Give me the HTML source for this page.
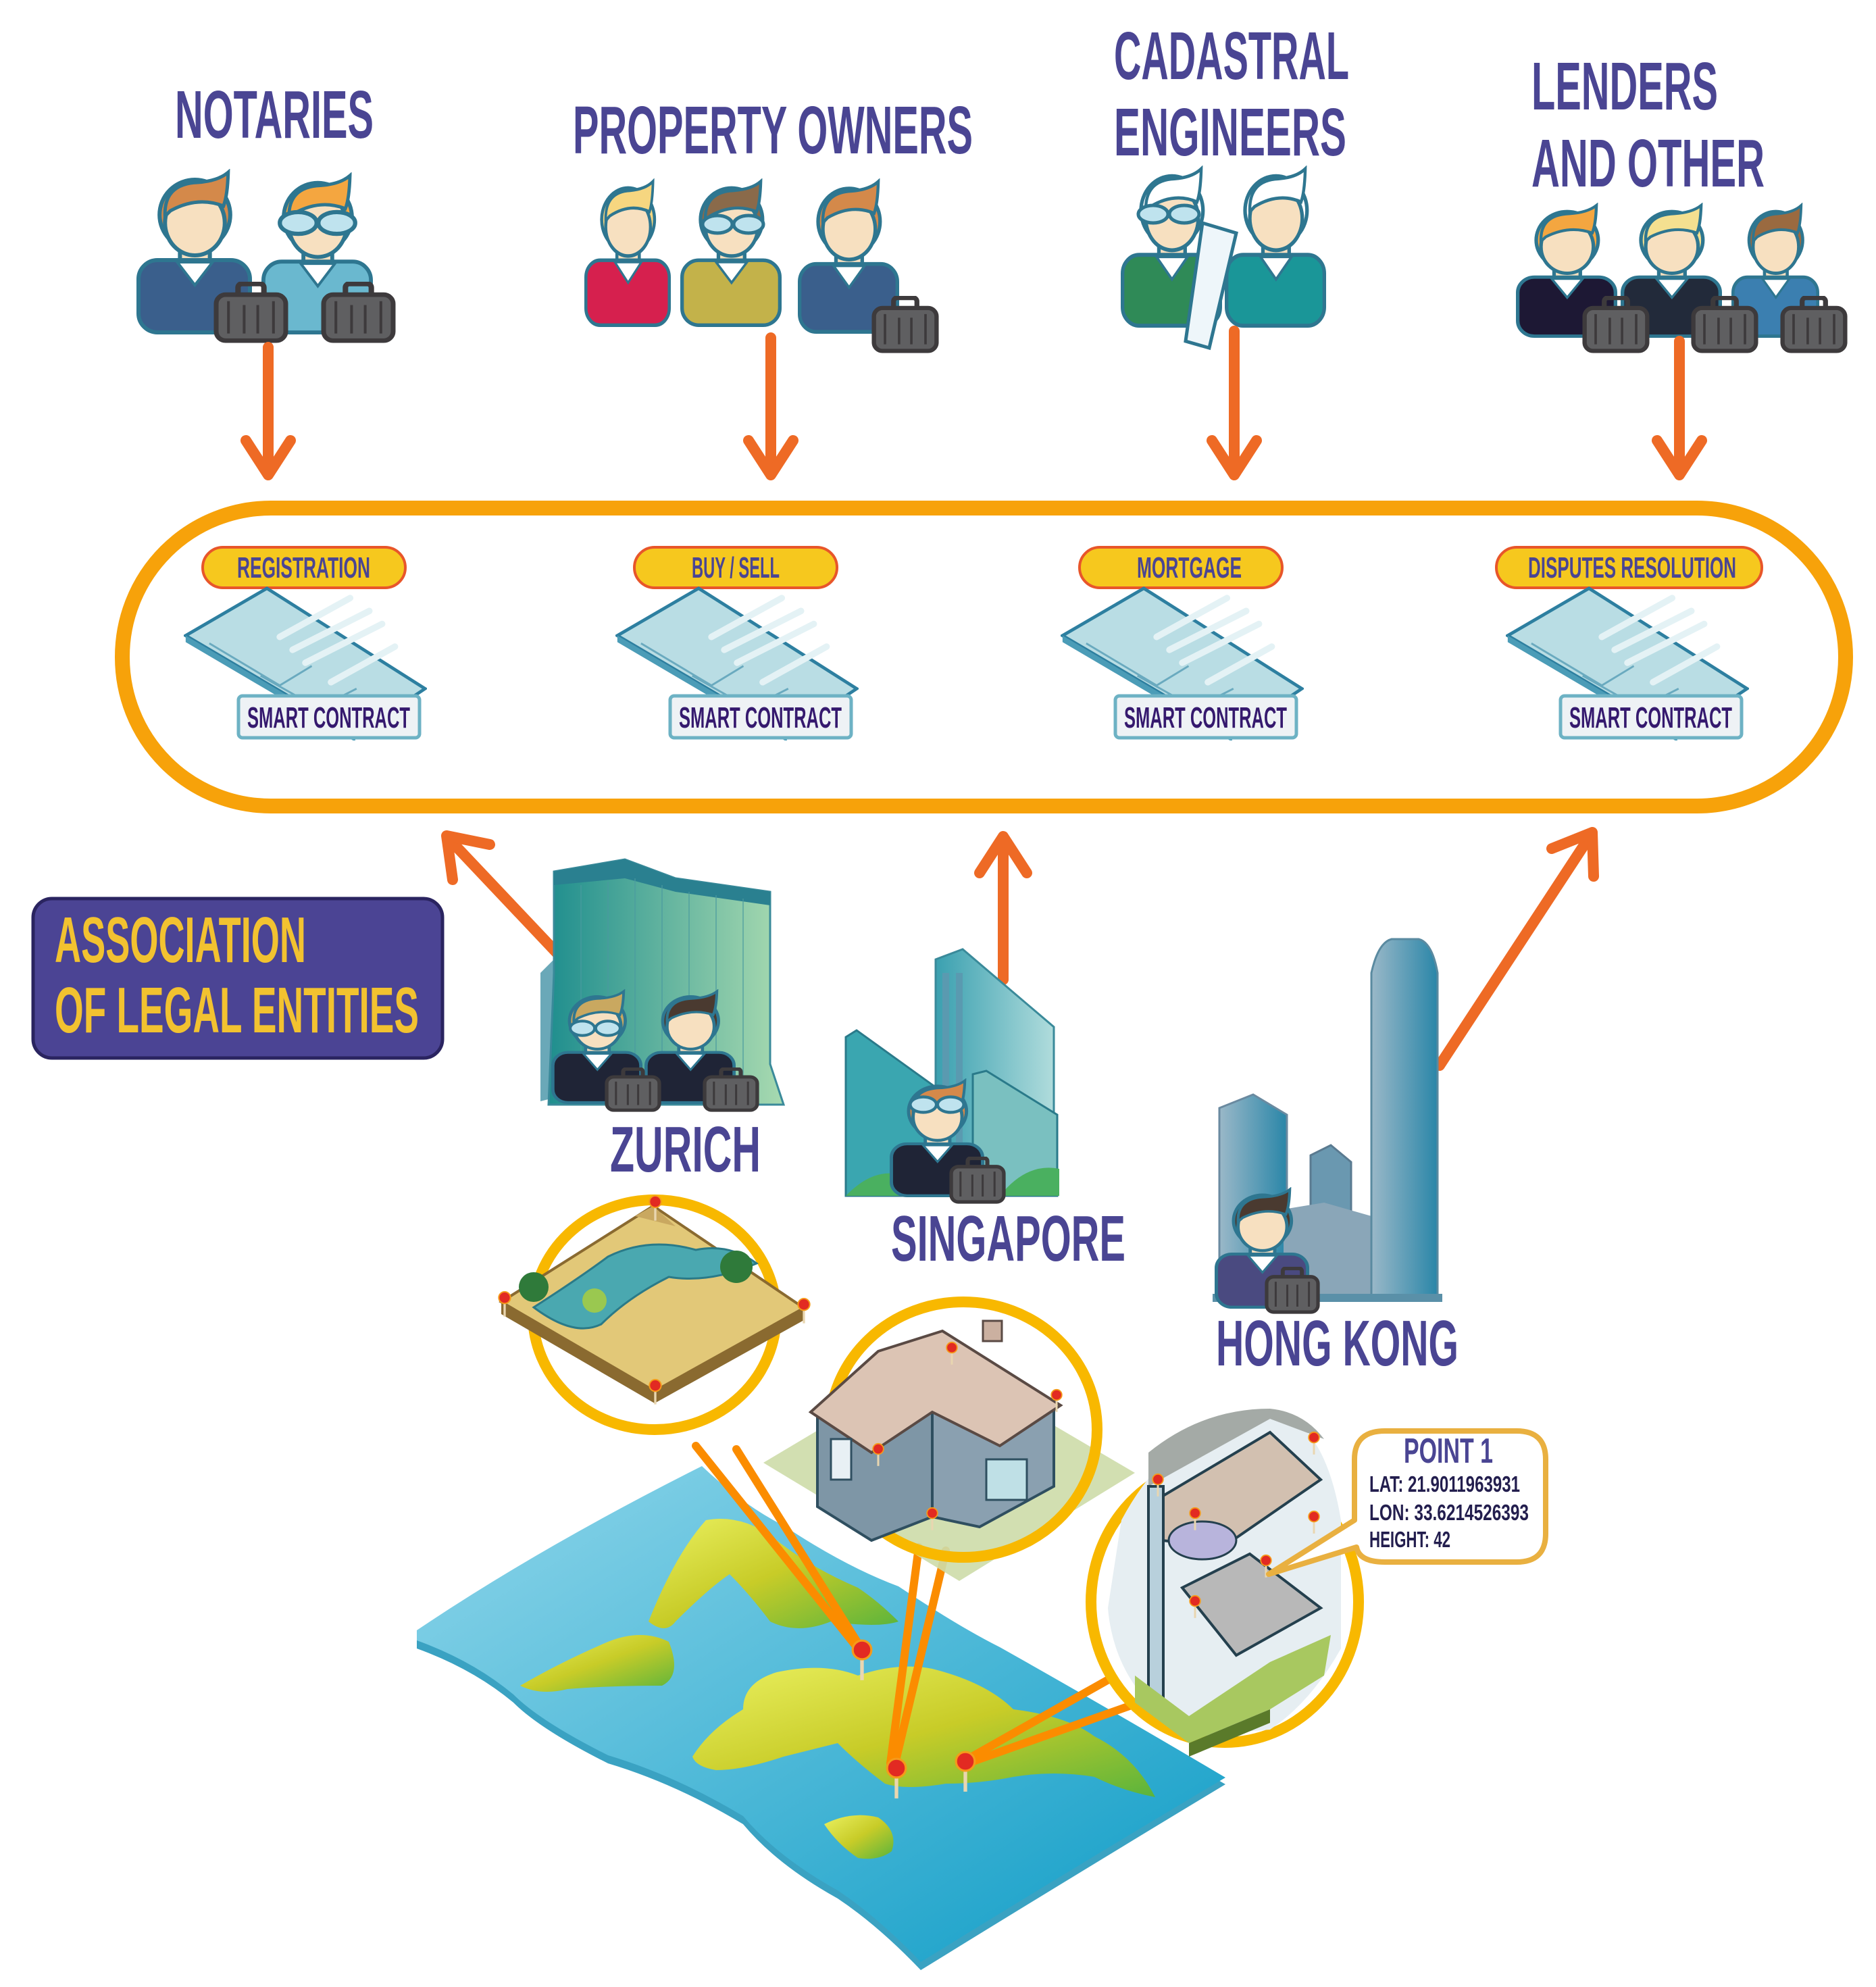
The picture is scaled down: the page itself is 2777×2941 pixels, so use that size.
<!DOCTYPE html>
<html><head><meta charset="utf-8"><style>
html,body{margin:0;padding:0;background:#fff}
svg{display:block}
text{font-family:"Liberation Sans Narrow","Liberation Sans",sans-serif;font-weight:bold}
</style></head><body>
<svg width="2777" height="2941" viewBox="0 0 2777 2941" xmlns="http://www.w3.org/2000/svg">
<defs>
<symbol id="p" viewBox="0 0 170 245" preserveAspectRatio="none">
 <ellipse cx="86" cy="68" rx="52" ry="52" fill="var(--h)" stroke="#2e7690" stroke-width="6"/>
 <rect x="64" y="105" width="44" height="45" fill="#f7e0c0" stroke="#2e7690" stroke-width="6"/>
 <rect x="3" y="135" width="164" height="107" rx="28" fill="currentColor" stroke="#2e7690" stroke-width="6"/>
 <path d="M60 138 L86 172 L112 138 Z" fill="#fff" stroke="#2e7690" stroke-width="4"/>
 <ellipse cx="86" cy="80" rx="44" ry="48" fill="#f7e0c0" stroke="#2e7690" stroke-width="6"/>
 <path d="M42 70 Q40 22 90 20 Q120 18 135 5 Q134 40 128 55 Q90 40 50 62 Z" fill="var(--h)" stroke="#2e7690" stroke-width="5"/>
</symbol>
<symbol id="b" viewBox="0 0 110 95" preserveAspectRatio="none">
 <rect x="36" y="3" width="38" height="28" rx="6" fill="none" stroke="#3d3a3c" stroke-width="8"/>
 <rect x="4" y="20" width="102" height="71" rx="14" fill="#5f5f61" stroke="#3d3a3c" stroke-width="7"/>
 <path d="M22 30V80M45 36V80M65 36V80M88 30V80" stroke="#3d3a3c" stroke-width="4"/>
</symbol>
<symbol id="g" viewBox="0 0 100 30">
 <ellipse cx="27" cy="15" rx="22" ry="13" fill="#bfe3ee" stroke="#2e7690" stroke-width="5"/>
 <ellipse cx="73" cy="15" rx="22" ry="13" fill="#bfe3ee" stroke="#2e7690" stroke-width="5"/>
</symbol>
<symbol id="doc" viewBox="0 0 380 240" preserveAspectRatio="none">
 <polygon points="130,5 3,78 268,232 377,160" fill="#b9dde4" stroke="#2d7fa0" stroke-width="5"/>
 <polygon points="3,78 3,88 268,242 268,232" fill="#4b9cb7"/>
 <path d="M150 80 L260 20 M170 100 L290 40 M190 120 L310 60 M230 150 L330 95" stroke="#e4f2f5" stroke-width="10" stroke-linecap="round"/>
 <path d="M40 90 L150 155 L200 125 M120 140 L210 190 L270 160" stroke="#6aaabf" stroke-width="3" fill="none"/>
</symbol>
<symbol id="pin" viewBox="0 0 30 60">
 <line x1="15" y1="20" x2="15" y2="58" stroke="#e9d6b0" stroke-width="5"/>
 <circle cx="15" cy="16" r="13" fill="#e22a22" stroke="#f59a1a" stroke-width="3"/>
</symbol>
<linearGradient id="sea" x1="0" y1="0" x2="1" y2="1"><stop offset="0" stop-color="#8fd6ea"/><stop offset="1" stop-color="#0e9cc6"/></linearGradient>
<linearGradient id="land" x1="0" y1="0" x2="1" y2="1"><stop offset="0" stop-color="#eaf060"/><stop offset="0.5" stop-color="#c8cc28"/><stop offset="1" stop-color="#5ab43c"/></linearGradient>
<linearGradient id="zb" x1="0" y1="0" x2="1" y2="0"><stop offset="0" stop-color="#1f8e8e"/><stop offset="1" stop-color="#a8dab0"/></linearGradient>
<linearGradient id="sb" x1="0" y1="0" x2="1" y2="0"><stop offset="0" stop-color="#3aa0b0"/><stop offset="1" stop-color="#b0dcdc"/></linearGradient>
<linearGradient id="hb" x1="0" y1="0" x2="1" y2="0"><stop offset="0" stop-color="#9ab8c8"/><stop offset="1" stop-color="#2a86a8"/></linearGradient>
</defs>

<!-- Titles -->
<g fill="#4a4593">
<text x="259" y="204" font-size="100" textLength="294" lengthAdjust="spacingAndGlyphs">NOTARIES</text>
<text x="848" y="227" font-size="100" textLength="592" lengthAdjust="spacingAndGlyphs">PROPERTY OWNERS</text>
<text x="1649" y="117" font-size="100" textLength="348" lengthAdjust="spacingAndGlyphs">CADASTRAL</text>
<text x="1649" y="230" font-size="100" textLength="344" lengthAdjust="spacingAndGlyphs">ENGINEERS</text>
<text x="2267" y="162" font-size="100" textLength="276" lengthAdjust="spacingAndGlyphs">LENDERS</text>
<text x="2267" y="276" font-size="100" textLength="345" lengthAdjust="spacingAndGlyphs">AND OTHER</text>
</g>

<!-- People top -->
<use href="#p" x="202" y="250" width="171" height="245" style="color:#3a5f8c;--h:#d4894a"/>
<use href="#p" x="387" y="255" width="165" height="240" style="color:#6ab8cf;--h:#f4a640"/>
<use href="#g" x="408" y="310" width="124" height="40"/>
<use href="#b" x="316" y="417" width="111" height="91"/>
<use href="#b" x="475" y="417" width="111" height="91"/>

<use href="#p" x="865" y="264" width="128" height="220" style="color:#d6204e;--h:#f6d680"/>
<use href="#p" x="1007" y="264" width="150" height="220" style="color:#c3b24a;--h:#8a6a4a"/>
<use href="#g" x="1035" y="315" width="100" height="34"/>
<use href="#p" x="1181" y="264" width="150" height="230" style="color:#3a5f8c;--h:#d4894a"/>
<use href="#b" x="1290" y="438" width="100" height="85"/>

<use href="#p" x="1659" y="245" width="150" height="240" style="color:#2f8a57;--h:#ffffff"/>
<use href="#g" x="1680" y="300" width="100" height="34"/>
<use href="#p" x="1813" y="245" width="150" height="240" style="color:#1a9698;--h:#ffffff"/>
<polygon points="1780,330 1830,345 1790,515 1755,505" fill="#eef6fa" stroke="#2e7690" stroke-width="5"/>

<use href="#p" x="2244" y="300" width="150" height="200" style="color:#1d1834;--h:#f4a640"/>
<use href="#p" x="2399" y="300" width="150" height="200" style="color:#222a3a;--h:#f4e090"/>
<use href="#p" x="2563" y="300" width="130" height="200" style="color:#3b7fb0;--h:#9a6a40"/>
<use href="#b" x="2342" y="438" width="100" height="85"/>
<use href="#b" x="2503" y="438" width="100" height="85"/>
<use href="#b" x="2635" y="438" width="100" height="85"/>

<!-- Down arrows -->
<g stroke="#ee6a25" stroke-width="16" fill="none" stroke-linecap="round" stroke-linejoin="round">
<line x1="397" y1="514" x2="397" y2="700"/><polyline points="364,652 397,703 430,652"/>
<line x1="1141" y1="500" x2="1141" y2="700"/><polyline points="1108,652 1141,703 1174,652"/>
<line x1="1827" y1="490" x2="1827" y2="700"/><polyline points="1794,652 1827,703 1860,652"/>
<line x1="2486" y1="505" x2="2486" y2="700"/><polyline points="2453,652 2486,703 2519,652"/>
</g>

<!-- Big pill -->
<rect x="181" y="752" width="2551" height="441" rx="220" fill="none" stroke="#f7a20a" stroke-width="22"/>

<!-- Contracts -->
<g>
<rect x="300" y="810" width="300" height="60" rx="30" fill="#f6c81e" stroke="#e8562a" stroke-width="4"/>
<text x="351" y="855" font-size="44" fill="#4a4593" textLength="197" lengthAdjust="spacingAndGlyphs">REGISTRATION</text>
<use href="#doc" x="272" y="866" width="360" height="230"/>
<rect x="353" y="1030" width="268" height="62" rx="6" fill="#eef2f5" stroke="#6db2c4" stroke-width="5"/>
<text x="366" y="1077" font-size="44" fill="#35196e" textLength="241" lengthAdjust="spacingAndGlyphs">SMART CONTRACT</text>
</g>
<g transform="translate(639,0)">
<rect x="300" y="810" width="300" height="60" rx="30" fill="#f6c81e" stroke="#e8562a" stroke-width="4"/>
<text x="385" y="855" font-size="44" fill="#4a4593" textLength="130" lengthAdjust="spacingAndGlyphs">BUY / SELL</text>
<use href="#doc" x="272" y="866" width="360" height="230"/>
<rect x="353" y="1030" width="268" height="62" rx="6" fill="#eef2f5" stroke="#6db2c4" stroke-width="5"/>
<text x="366" y="1077" font-size="44" fill="#35196e" textLength="241" lengthAdjust="spacingAndGlyphs">SMART CONTRACT</text>
</g>
<g transform="translate(1298,0)">
<rect x="300" y="810" width="300" height="60" rx="30" fill="#f6c81e" stroke="#e8562a" stroke-width="4"/>
<text x="385" y="855" font-size="44" fill="#4a4593" textLength="155" lengthAdjust="spacingAndGlyphs">MORTGAGE</text>
<use href="#doc" x="272" y="866" width="360" height="230"/>
<rect x="353" y="1030" width="268" height="62" rx="6" fill="#eef2f5" stroke="#6db2c4" stroke-width="5"/>
<text x="366" y="1077" font-size="44" fill="#35196e" textLength="241" lengthAdjust="spacingAndGlyphs">SMART CONTRACT</text>
</g>
<g transform="translate(1957,0)">
<rect x="258" y="810" width="393" height="60" rx="30" fill="#f6c81e" stroke="#e8562a" stroke-width="4"/>
<text x="305" y="855" font-size="44" fill="#4a4593" textLength="308" lengthAdjust="spacingAndGlyphs">DISPUTES RESOLUTION</text>
<use href="#doc" x="272" y="866" width="360" height="230"/>
<rect x="353" y="1030" width="268" height="62" rx="6" fill="#eef2f5" stroke="#6db2c4" stroke-width="5"/>
<text x="366" y="1077" font-size="44" fill="#35196e" textLength="241" lengthAdjust="spacingAndGlyphs">SMART CONTRACT</text>
</g>

<!-- Association box -->
<rect x="49" y="1330" width="606" height="236" rx="28" fill="#4b4494" stroke="#2a2460" stroke-width="5"/>
<text x="81" y="1424" font-size="96" fill="#f2c230" textLength="372" lengthAdjust="spacingAndGlyphs">ASSOCIATION</text>
<text x="81" y="1528" font-size="96" fill="#f2c230" textLength="539" lengthAdjust="spacingAndGlyphs">OF LEGAL ENTITIES</text>

<!-- Up arrows -->
<g stroke="#ee6a25" stroke-width="16" fill="none" stroke-linecap="round" stroke-linejoin="round">
<line x1="838" y1="1425" x2="664" y2="1241"/><polyline points="670,1302 661,1237 725,1250"/>
<line x1="1485" y1="1450" x2="1485" y2="1242"/><polyline points="1450,1292 1485,1238 1520,1292"/>
<line x1="2131" y1="1577" x2="2354" y2="1237"/><polyline points="2297,1256 2357,1232 2359,1297"/>
</g>

<!-- Zurich building -->
<polygon points="800,1440 840,1400 840,1620 800,1630" fill="#6aa8b8"/>
<polygon points="820,1290 925,1272 1000,1300 1140,1320 1140,1575 1160,1635 812,1635 820,1440" fill="url(#zb)" stroke="#3a8a9a" stroke-width="3"/>
<polygon points="820,1290 925,1272 1000,1300 1140,1320 1140,1340 1000,1320 925,1300 820,1310" fill="#2a8090"/>
<g stroke="#4a9aa0" stroke-width="2" opacity="0.6"><path d="M860 1310V1620M900 1305V1620M940 1300V1620M980 1310V1620M1020 1320V1620M1060 1325V1620M1100 1330V1620"/></g>
<use href="#p" x="816" y="1464" width="135" height="170" style="color:#1f2436;--h:#c9a860"/>
<use href="#g" x="840" y="1508" width="82" height="28"/>
<use href="#p" x="954" y="1464" width="135" height="170" style="color:#1f2436;--h:#4a3a30"/>
<use href="#b" x="895" y="1580" width="84" height="66"/>
<use href="#b" x="1040" y="1580" width="84" height="66"/>
<text x="903" y="1734" font-size="96" fill="#4a4593" textLength="223" lengthAdjust="spacingAndGlyphs">ZURICH</text>

<!-- Singapore buildings -->
<polygon points="1385,1420 1425,1405 1560,1520 1560,1760 1385,1760" fill="url(#sb)" stroke="#3a8a9a" stroke-width="3"/>
<g fill="#5a9ab0"><rect x="1395" y="1440" width="10" height="300"/><rect x="1415" y="1440" width="10" height="300"/></g>
<polygon points="1252,1535 1268,1525 1400,1620 1400,1770 1252,1770" fill="#3aa6b0" stroke="#2a7a8a" stroke-width="3"/>
<polygon points="1440,1590 1460,1585 1565,1650 1565,1770 1440,1770" fill="#7ac0c0" stroke="#2a7a8a" stroke-width="3"/>
<path d="M1252 1770 Q1300 1720 1350 1745 L1400 1770 Z M1480 1770 Q1520 1720 1568 1730 L1568 1770Z" fill="#4ab060"/>
<use href="#p" x="1317" y="1596" width="140" height="176" style="color:#1f2436;--h:#d4894a"/>
<use href="#g" x="1343" y="1620" width="88" height="30"/>
<use href="#b" x="1405" y="1712" width="84" height="70"/>
<text x="1319" y="1866" font-size="96" fill="#4a4593" textLength="347" lengthAdjust="spacingAndGlyphs">SINGAPORE</text>

<!-- Hong Kong buildings -->
<polygon points="1805,1640 1855,1620 1905,1650 1905,1920 1805,1920" fill="url(#hb)" stroke="#6a8aa0" stroke-width="3"/>
<polygon points="1940,1710 1970,1695 2000,1720 2000,1920 1940,1920" fill="#6a98b0" stroke="#5a7a90" stroke-width="3"/>
<polygon points="1900,1790 1960,1780 2030,1800 2030,1920 1900,1920" fill="#8aa6b8"/>
<path d="M2030 1920 L2030 1440 Q2040 1395 2060 1390 L2100 1390 Q2120 1395 2128 1440 L2128 1920 Z" fill="url(#hb)" stroke="#5a8aa0" stroke-width="3"/>
<rect x="1795" y="1915" width="340" height="12" fill="#5a90a8"/>
<use href="#p" x="1798" y="1757" width="140" height="180" style="color:#4a4a80;--h:#4a3a30"/>
<use href="#b" x="1872" y="1875" width="82" height="70"/>
<text x="1800" y="2021" font-size="96" fill="#4a4593" textLength="359" lengthAdjust="spacingAndGlyphs">HONG KONG</text>

<!-- Map -->
<path d="M617 2425 Q800 2300 1039 2180 Q1100 2240 1160 2270 Q1250 2330 1330 2360 Q1420 2420 1480 2450 Q1640 2540 1814 2641 Q1600 2770 1363 2916 Q1300 2850 1240 2810 Q1150 2760 1100 2700 Q1000 2640 900 2610 Q800 2560 760 2520 Q700 2470 617 2440 Z" fill="#3aa2c2"/>
<path d="M617 2413 Q800 2290 1039 2170 Q1100 2228 1160 2258 Q1250 2318 1330 2348 Q1420 2408 1480 2438 Q1640 2528 1814 2631 Q1600 2758 1363 2904 Q1300 2838 1240 2798 Q1150 2748 1100 2688 Q1000 2628 900 2598 Q800 2548 760 2508 Q700 2458 617 2428 Z" fill="url(#sea)"/>
<path d="M1045 2250 Q1000 2300 960 2400 Q985 2420 1000 2400 Q1050 2350 1080 2330 Q1110 2360 1140 2400 Q1180 2420 1230 2400 Q1300 2410 1330 2400 Q1300 2370 1270 2350 Q1200 2320 1150 2280 Q1100 2240 1045 2250Z" fill="url(#land)"/>
<path d="M770 2495 Q830 2460 900 2430 Q950 2410 990 2430 Q1010 2480 980 2495 Q900 2495 840 2500 Q800 2510 770 2495Z" fill="url(#land)"/>
<path d="M1025 2600 Q1050 2560 1100 2530 Q1100 2490 1150 2475 Q1220 2460 1270 2480 Q1330 2460 1380 2470 Q1460 2490 1500 2530 Q1580 2540 1620 2570 Q1680 2600 1710 2660 Q1660 2650 1620 2630 Q1560 2620 1500 2630 Q1450 2640 1400 2640 Q1340 2650 1310 2640 Q1270 2610 1240 2580 Q1200 2590 1160 2600 Q1100 2620 1060 2620 Q1030 2615 1025 2600Z" fill="url(#land)"/>
<path d="M1220 2700 Q1260 2680 1300 2690 Q1330 2710 1320 2740 Q1300 2755 1270 2750 Q1240 2730 1220 2700Z" fill="url(#land)"/>

<!-- Circle tails (lines) -->
<g fill="none" stroke="#fb8c00" stroke-width="12" stroke-linecap="round">
<line x1="1030" y1="2140" x2="1270" y2="2440"/><line x1="1090" y1="2145" x2="1275" y2="2440"/>
<line x1="1360" y1="2290" x2="1318" y2="2610"/><line x1="1400" y1="2295" x2="1325" y2="2610"/>
<line x1="1655" y1="2478" x2="1430" y2="2605"/><line x1="1672" y1="2525" x2="1432" y2="2610"/>
</g>

<!-- Circle 1: land -->
<ellipse cx="969" cy="1946" rx="180" ry="170" fill="#fff" stroke="#f8b800" stroke-width="16"/>
<polygon points="742,1945 969,2077 1190,1954 1190,1936 969,2059 742,1927" fill="#8a6a30"/>
<polygon points="742,1927 967,1785 1190,1936 969,2059" fill="#e2c878" stroke="#8a6a30" stroke-width="4"/>
<path d="M790 1935 Q860 1890 900 1860 Q960 1830 1030 1850 Q1080 1840 1120 1870 Q1050 1900 990 1890 Q930 1920 890 1960 Q850 1980 790 1935Z" fill="#4aa8b0" stroke="#2a7a88" stroke-width="3"/>
<path d="M940 1800 L967 1785 L1000 1815 Z" fill="#c9a860"/>
<circle cx="790" cy="1905" r="22" fill="#2f7a3a"/><circle cx="1090" cy="1875" r="24" fill="#2f7a3a"/><circle cx="880" cy="1925" r="18" fill="#9ac850"/>
<use href="#pin" x="955" y="1768" width="30" height="40"/>
<use href="#pin" x="732" y="1910" width="30" height="40"/>
<use href="#pin" x="1175" y="1920" width="30" height="40"/>
<use href="#pin" x="955" y="2040" width="30" height="40"/>

<!-- Circle 2: house -->
<polygon points="1130,2165 1390,2010 1680,2180 1420,2340" fill="#cddca8" opacity="0.9"/>
<ellipse cx="1426" cy="2116" rx="198" ry="189" fill="none" stroke="#f8b800" stroke-width="16"/>
<polygon points="1210,2090 1300,2040 1380,2085 1380,2245 1290,2280 1210,2230" fill="#7e96a6" stroke="#2f4f60" stroke-width="4"/>
<polygon points="1380,2085 1560,2080 1560,2200 1450,2260 1380,2245" fill="#8aa0b0" stroke="#2f4f60" stroke-width="4"/>
<polygon points="1200,2090 1300,2000 1395,1970 1570,2080 1480,2140 1380,2090 1290,2150" fill="#dcc4b4" stroke="#5a4a44" stroke-width="4"/>
<rect x="1455" y="1955" width="28" height="30" fill="#cbb0a0" stroke="#5a4a44" stroke-width="3"/>
<rect x="1230" y="2130" width="30" height="60" fill="#e8f0f4" stroke="#2f4f60" stroke-width="3"/>
<rect x="1460" y="2160" width="60" height="60" fill="#bfe0e6" stroke="#2f4f60" stroke-width="3"/>
<use href="#pin" x="1395" y="1985" width="28" height="36"/>
<use href="#pin" x="1286" y="2135" width="28" height="36"/>
<use href="#pin" x="1550" y="2055" width="28" height="36"/>
<use href="#pin" x="1366" y="2230" width="28" height="36"/>

<!-- Circle 3: building -->
<ellipse cx="1813" cy="2371" rx="198" ry="208" fill="#fff" stroke="#f8b800" stroke-width="16"/>
<path d="M1660 2250 Q1740 2100 1880 2090 Q1960 2100 1985 2250 L1985 2440 Q1940 2520 1880 2560 L1760 2570 Q1650 2500 1640 2380 Z" fill="#e6eef2"/>
<path d="M1700 2150 Q1780 2085 1880 2085 Q1930 2090 1960 2130 L1880 2100 L1700 2200Z" fill="#a4aaa6"/>
<polygon points="1720,2215 1880,2120 1955,2190 1810,2290 1720,2280" fill="#d2c0b0" stroke="#24404e" stroke-width="4"/>
<ellipse cx="1780" cy="2280" rx="50" ry="28" fill="#b8b4dc" stroke="#24404e" stroke-width="3"/>
<polygon points="1750,2350 1850,2300 1955,2380 1830,2450" fill="#b8b8b8" stroke="#24404e" stroke-width="4"/>
<rect x="1700" y="2200" width="22" height="320" fill="#b8d0dc" stroke="#24404e" stroke-width="4"/>
<polygon points="1680,2480 1760,2540 1880,2460 1970,2420 1960,2480 1880,2530 1760,2580 1680,2520" fill="#a8c860"/>
<polygon points="1760,2580 1880,2530 1880,2550 1760,2600" fill="#5a7a2a"/>
<use href="#pin" x="1700" y="2180" width="28" height="36"/>
<use href="#pin" x="1931" y="2118" width="28" height="36"/>
<use href="#pin" x="1931" y="2235" width="28" height="36"/>
<use href="#pin" x="1860" y="2300" width="28" height="36"/>
<use href="#pin" x="1755" y="2230" width="28" height="36"/>
<use href="#pin" x="1755" y="2360" width="28" height="36"/>

<!-- Point 1 callout -->
<path d="M2050 2118 H2245 Q2288 2118 2288 2160 V2270 Q2288 2312 2245 2312 H2050 Q2012 2312 2008 2290 L1878 2330 L2005 2250 V2160 Q2005 2118 2050 2118 Z" fill="#fff" stroke="#e9b040" stroke-width="8" stroke-linejoin="round"/>
<text x="2078" y="2165" font-size="52" fill="#4a4593" textLength="132" lengthAdjust="spacingAndGlyphs">POINT 1</text>
<g fill="#231e4e" font-size="33">
<text x="2027" y="2208" textLength="223" lengthAdjust="spacingAndGlyphs">LAT: 21.9011963931</text>
<text x="2027" y="2250" textLength="236" lengthAdjust="spacingAndGlyphs">LON: 33.6214526393</text>
<text x="2027" y="2290" textLength="120" lengthAdjust="spacingAndGlyphs">HEIGHT: 42</text>
</g>

<!-- Map pins -->
<use href="#pin" x="1260" y="2425" width="32" height="64"/>
<use href="#pin" x="1311" y="2600" width="32" height="64"/>
<use href="#pin" x="1413" y="2590" width="32" height="64"/>
</svg>
</body></html>
